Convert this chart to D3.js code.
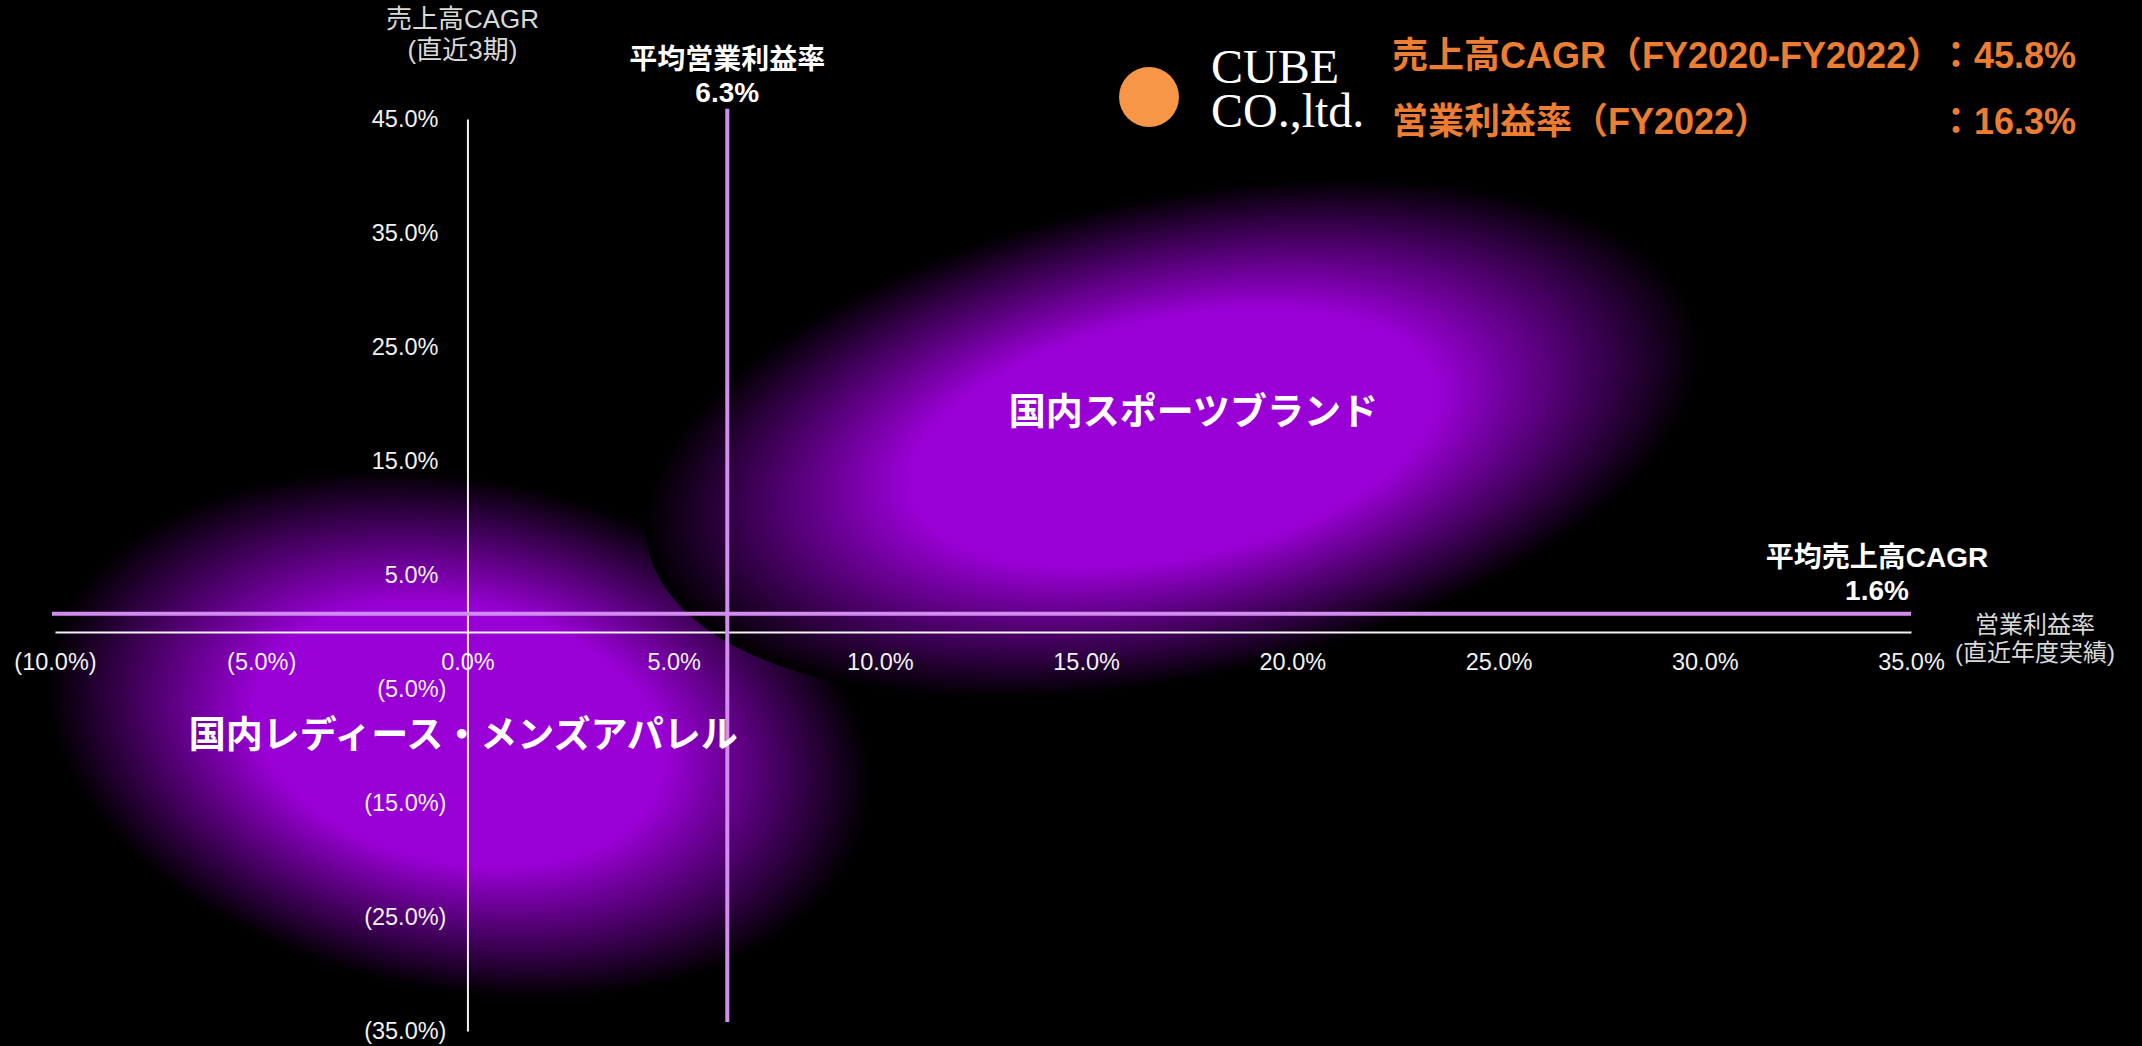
<!DOCTYPE html>
<html lang="ja">
<head>
<meta charset="utf-8">
<title>ポジショニングマップ</title>
<script src="https://cdn.jsdelivr.net/npm/d3@7/dist/d3.min.js"></script>
<style>
  html, body { margin: 0; padding: 0; background: #000; }
  svg { display: block; }
</style>
</head>
<body>
<script>
// ---- data -------------------------------------------------------------
// axis ticks (percent)
const xTicks = [-10, -5, 0, 5, 10, 15, 20, 25, 30, 35];
const yTicks = [45, 35, 25, 15, 5, -5, -15, -25, -35];

// industry averages
const avgMargin = 6.3;          // 平均営業利益率
const avgCagr = 1.6;            // 平均売上高CAGR
const avgMarginSpan = [-34.2, 45.9];

// market regions: centre, half-extent (axis units) and tilt in degrees
const regions = [
  { name: "国内レディース・メンズアパレル", cx: -0.2, cy: -9.0, rx: 10.1, ry: 22.5, tilt: 11,    lx: -0.1, ly: -8.8 },
  { name: "国内スポーツブランド",           cx: 17.1, cy: 17.0, rx: 13.0, ry: 21.1, tilt: -11.7, lx: 17.6, ly: 19.6 }
];

// company headline figures
const companyName = ["CUBE", "CO.,ltd."];
const headline = [
  { label: "売上高CAGR（FY2020-FY2022）", value: "：45.8%" },
  { label: "営業利益率（FY2022）", value: "：16.3%" }
];

// ---- layout -----------------------------------------------------------
const W = 2142, H = 1046;
const SANS = '"Liberation Sans", Arial, "Noto Sans CJK JP", sans-serif';
const CJK = '"Noto Sans CJK JP", "Liberation Sans", sans-serif';
const PURPLE = "#9900d5";
const LINE = "#d28cf0";

const x = d3.scaleLinear().domain([-10, 35]).range([55, 1911]);
const y = d3.scaleLinear().domain([-35, 45]).range([1031, 119]);

const fmt = v => v < 0 ? `(${Math.abs(v).toFixed(1)}%)` : `${v.toFixed(1)}%`;

const svg = d3.select("body").append("svg")
  .attr("width", W).attr("height", H)
  .style("background", "#000");

// radial glow used for each region
const defs = svg.append("defs");
const grad = defs.append("radialGradient").attr("id", "glow")
  .attr("cx", "50%").attr("cy", "50%").attr("r", "50%");
grad.append("stop").attr("offset", "0").attr("stop-color", PURPLE);
grad.append("stop").attr("offset", "0.5").attr("stop-color", PURPLE);
grad.append("stop").attr("offset", "1").attr("stop-color", "#000");

// ---- regions ----------------------------------------------------------
svg.append("g").selectAll("ellipse")
  .data(regions)
  .join("ellipse")
  .attr("cx", 0).attr("cy", 0)
  .attr("rx", d => x(d.cx + d.rx) - x(d.cx))
  .attr("ry", d => y(d.cy) - y(d.cy + d.ry))
  .attr("transform", d => `translate(${x(d.cx)},${y(d.cy)}) rotate(${d.tilt})`)
  .attr("fill", "url(#glow)");

// ---- axes -------------------------------------------------------------
const TICK_FONT = "23.5px";

const xAxis = svg.append("g")
  .attr("transform", `translate(0,${y(0)})`)
  .call(d3.axisBottom(x).tickValues(xTicks).tickSize(0).tickSizeOuter(0).tickFormat(fmt));
xAxis.select(".domain").attr("stroke", "#f2f2f2").attr("stroke-width", 2);
xAxis.selectAll("text")
  .attr("y", 30).attr("dy", "0.35em")
  .attr("fill", "#f2f2f2")
  .style("font-family", SANS).style("font-size", TICK_FONT);

const yAxis = svg.append("g")
  .attr("transform", `translate(${x(0)},0)`)
  .call(d3.axisLeft(y).tickValues(yTicks).tickSize(0).tickSizeOuter(0).tickPadding(21).tickFormat(fmt));
yAxis.select(".domain").attr("stroke", "#f2f2f2").attr("stroke-width", 2);
yAxis.selectAll("text")
  .attr("fill", "#f2f2f2")
  .attr("dx", d => d < 0 ? 0 : -8)
  .style("font-family", SANS).style("font-size", TICK_FONT);

// axis titles
const yTitle = svg.append("text")
  .attr("x", x(0) - 5).attr("text-anchor", "middle")
  .attr("fill", "#d9d9d9")
  .style("font-family", SANS).style("font-size", "26px");
yTitle.append("tspan").attr("x", x(0) - 5).attr("y", 19).attr("dominant-baseline", "central").text("売上高CAGR");
yTitle.append("tspan").attr("x", x(0) - 5).attr("y", 50).attr("dominant-baseline", "central").text("(直近3期)");

const xTitle = svg.append("text")
  .attr("text-anchor", "middle").attr("fill", "#d9d9d9")
  .style("font-family", SANS).style("font-size", "24px");
xTitle.append("tspan").attr("x", x(35) + 124).attr("y", 624).attr("dominant-baseline", "central").text("営業利益率");
xTitle.append("tspan").attr("x", x(35) + 124).attr("y", 652).attr("dominant-baseline", "central").text("(直近年度実績)");

// ---- average lines ----------------------------------------------------
svg.append("line")
  .attr("x1", x(-10) - 3).attr("x2", x(35))
  .attr("y1", y(avgCagr)).attr("y2", y(avgCagr))
  .attr("stroke", LINE).attr("stroke-width", 4);

svg.append("line")
  .attr("x1", x(avgMargin)).attr("x2", x(avgMargin))
  .attr("y1", y(avgMarginSpan[1])).attr("y2", y(avgMarginSpan[0]))
  .attr("stroke", LINE).attr("stroke-width", 4);

const marginLabel = svg.append("text")
  .attr("text-anchor", "middle").attr("fill", "#fff")
  .style("font-family", SANS).style("font-size", "28px").style("font-weight", "bold");
marginLabel.append("tspan").attr("x", x(avgMargin)).attr("y", 59).attr("dominant-baseline", "central").text("平均営業利益率");
marginLabel.append("tspan").attr("x", x(avgMargin)).attr("y", 92).attr("dominant-baseline", "central").text(`${avgMargin.toFixed(1)}%`);

const cagrLabel = svg.append("text")
  .attr("text-anchor", "middle").attr("fill", "#fff")
  .style("font-family", SANS).style("font-size", "28px").style("font-weight", "bold");
cagrLabel.append("tspan").attr("x", x(35) - 34).attr("y", y(avgCagr) - 56).attr("dominant-baseline", "central").text("平均売上高CAGR");
cagrLabel.append("tspan").attr("x", x(35) - 34).attr("y", y(avgCagr) - 23).attr("dominant-baseline", "central").text(`${avgCagr.toFixed(1)}%`);

// ---- region labels ----------------------------------------------------
svg.append("g").selectAll("text")
  .data(regions)
  .join("text")
  .attr("x", d => x(d.lx)).attr("y", d => y(d.ly))
  .attr("text-anchor", "middle").attr("dominant-baseline", "central")
  .attr("fill", "#fff")
  .style("font-family", CJK).style("font-size", "37px").style("font-weight", "bold")
  .text(d => d.name);

// ---- company badge ----------------------------------------------------
const badge = svg.append("g");
badge.append("circle").attr("cx", 1149).attr("cy", 97).attr("r", 30).attr("fill", "#f79646");
badge.append("text")
  .attr("fill", "#fff")
  .style("font-family", '"Liberation Serif", "DejaVu Serif", serif').style("font-size", "48px")
  .selectAll("tspan")
  .data(companyName)
  .join("tspan")
  .attr("x", 1211).attr("y", (d, i) => 83 + i * 44)
  .text(d => d);

const hl = badge.selectAll("g.hl").data(headline).join("g").attr("class", "hl");
hl.append("text")
  .attr("x", 1392).attr("y", (d, i) => 55 + i * 66)
  .attr("dominant-baseline", "central")
  .attr("fill", "#ed7d31")
  .style("font-family", SANS).style("font-size", "36px").style("font-weight", "bold")
  .text(d => d.label);
hl.append("text")
  .attr("x", 2076).attr("y", (d, i) => 55 + i * 66)
  .attr("text-anchor", "end").attr("dominant-baseline", "central")
  .attr("fill", "#ed7d31")
  .style("font-family", SANS).style("font-size", "36px").style("font-weight", "bold")
  .text(d => d.value);
</script>
</body>
</html>
